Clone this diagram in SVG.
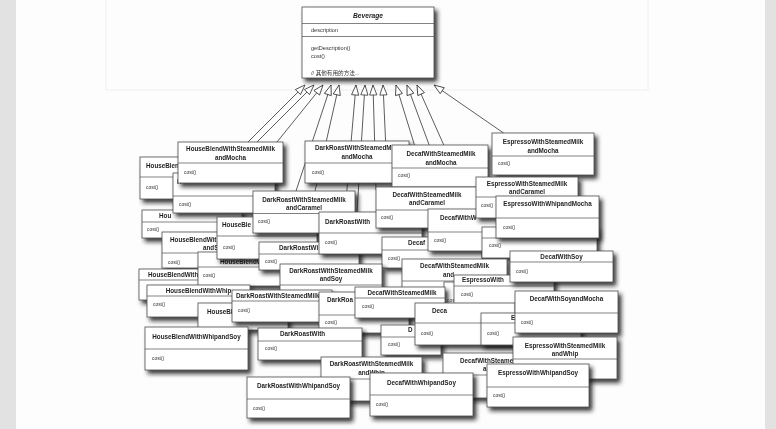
<svg xmlns="http://www.w3.org/2000/svg" width="776" height="429" viewBox="0 0 776 429">
<style>
.b{fill:#fff;stroke:#4d4d4d;stroke-width:0.8;filter:url(#sh)}
.d{stroke:#4d4d4d;stroke-width:0.7;fill:none}
.t{font-family:"Liberation Sans",Arial,sans-serif;font-weight:bold;font-size:6.3px;fill:#1e1e1e}
.m{text-anchor:middle}
.c{font-family:"Liberation Sans",Arial,sans-serif;font-size:4.9px;fill:#333}
.c2{font-family:"Liberation Sans","Noto Sans CJK SC",Arial,sans-serif;font-size:5.6px;fill:#333}
</style>
<defs>
<filter id="sh" x="-20%" y="-30%" width="150%" height="180%"><feDropShadow dx="3" dy="3.5" stdDeviation="2.2" flood-color="#141414" flood-opacity="0.85"/></filter>
<marker id="tri" viewBox="-11 -5 12 10" refX="0" refY="0" markerWidth="12" markerHeight="10" markerUnits="userSpaceOnUse" orient="auto"><path d="M0 0L-10 -3.6L-10 3.6Z" fill="#fff" stroke="#333" stroke-width="0.8"/></marker>
</defs>
<g style="opacity:0.995">
<rect x="0" y="0" width="776" height="429" fill="#e2e2e2"/>
<rect x="16" y="0" width="749" height="429" fill="#fdfdfd"/>
<rect x="106" y="-2" width="542" height="92" fill="none" stroke="#eeeeee"/>

<g id="beverage"><rect class="b" x="302" y="7" width="132" height="71"/><path class="d" d="M302 23.5h132M302 36.5h132"/><text class="t m" x="368" y="17.5" style="font-style:italic;font-size:6.7px">Beverage</text><text class="c2" x="311" y="32">description</text><text class="c2" x="311" y="50">getDescription()</text><text class="c2" x="311" y="58">cost()</text><text class="c2" x="311" y="74.5">// 其他有用的方法...</text></g>

<g id="connectors" stroke="#333" stroke-width="0.8" fill="none">
<line x1="248" y1="142" x2="305" y2="85" marker-end="url(#tri)"/>
<line x1="257" y1="142" x2="314" y2="85" marker-end="url(#tri)"/>
<line x1="277" y1="142" x2="323" y2="85" marker-end="url(#tri)"/>
<line x1="296" y1="191" x2="331" y2="85" marker-end="url(#tri)"/>
<line x1="315" y1="191" x2="339" y2="85" marker-end="url(#tri)"/>
<line x1="345" y1="212" x2="356" y2="85" marker-end="url(#tri)"/>
<line x1="357" y1="212" x2="365" y2="85" marker-end="url(#tri)"/>
<line x1="376" y1="190" x2="373" y2="85" marker-end="url(#tri)"/>
<line x1="386" y1="150" x2="383" y2="85" marker-end="url(#tri)"/>
<line x1="416" y1="150" x2="396" y2="85" marker-end="url(#tri)"/>
<line x1="431" y1="150" x2="407" y2="85" marker-end="url(#tri)"/>
<line x1="446" y1="150" x2="417" y2="85" marker-end="url(#tri)"/>
<line x1="505" y1="134" x2="434" y2="85" marker-end="url(#tri)"/>
</g>

<g id="a1"><rect class="b" x="140" y="157" width="100" height="42"/><path class="d" d="M140 177h100"/><text class="t" x="146" y="168">HouseBlen</text><text class="c" x="146" y="189">cost()</text></g>
<g id="a3"><rect class="b" x="142" y="210" width="100" height="28"/><path class="d" d="M142 222h100"/><text class="t" x="159" y="218">Hou</text><text class="c" x="147" y="231">cost()</text></g>
<g id="a2"><rect class="b" x="173" y="173" width="102" height="40"/><path class="d" d="M173 196h102"/><text class="t" x="177" y="184">H</text><text class="c" x="179" y="206">cost()</text></g>
<g id="b1"><rect class="b" x="178" y="142" width="105" height="41"/><path class="d" d="M178 163h105"/><text class="t m" x="230.5" y="151">HouseBlendWithSteamedMilk</text><text class="t m" x="230.5" y="159.5">andMocha</text><text class="c" x="184" y="174">cost()</text></g>
<g id="b2"><rect class="b" x="305" y="141" width="104" height="42"/><path class="d" d="M305 163h104"/><text class="t" x="315" y="150">DarkRoastWithSteamedM</text><text class="t m" x="357" y="158.5">andMocha</text><text class="c" x="312" y="174">cost()</text></g>
<g id="b3"><rect class="b" x="392" y="145" width="96" height="42"/><path class="d" d="M392 168h96"/><text class="t m" x="441" y="156">DecafWithSteamedMilk</text><text class="t m" x="441" y="164.5">andMocha</text><text class="c" x="398" y="177">cost()</text></g>
<g id="b4"><rect class="b" x="492" y="133" width="102" height="42"/><path class="d" d="M492 156h102"/><text class="t m" x="543" y="144">EspressoWithSteamedMilk</text><text class="t m" x="543" y="152.5">andMocha</text><text class="c" x="498" y="165">cost()</text></g>
<g id="a4"><rect class="b" x="162" y="232" width="100" height="36"/><path class="d" d="M162 253h100"/><text class="t" x="170" y="242">HouseBlendWit</text><text class="t" x="203" y="250">andS</text><text class="c" x="168" y="264">cost()</text></g>
<g id="a9"><rect class="b" x="139" y="269" width="80" height="31"/><path class="d" d="M139 280h80"/><text class="t" x="148" y="276.5">HouseBlendWith</text></g>
<g id="a8"><rect class="b" x="198" y="252" width="100" height="34"/><path class="d" d="M198 267h100"/><text class="t" x="220" y="264">HouseBlendWi</text><text class="c" x="203" y="277">cost()</text></g>
<g id="a7"><rect class="b" x="217" y="217" width="100" height="42"/><path class="d" d="M217 236h100"/><text class="t" x="222" y="227">HouseBle</text><text class="c" x="223" y="249">cost()</text></g>
<g id="d1"><rect class="b" x="259" y="242" width="100" height="28"/><path class="d" d="M259 254h100"/><text class="t" x="279" y="249.5">DarkRoastWi</text><text class="c" x="265" y="263">cost()</text></g>
<g id="b7"><rect class="b" x="253" y="191" width="102" height="42"/><path class="d" d="M253 213.5h102"/><text class="t m" x="304" y="201.5">DarkRoastWithSteamedMilk</text><text class="t m" x="304" y="210">andCaramel</text><text class="c" x="258" y="223">cost()</text></g>
<g id="b5"><rect class="b" x="319" y="212" width="103" height="42"/><path class="d" d="M319 233h103"/><text class="t" x="325" y="223.5">DarkRoastWith</text><text class="c" x="325" y="244">cost()</text></g>
<g id="b8"><rect class="b" x="376" y="187" width="102" height="41"/><path class="d" d="M376 210h102"/><text class="t m" x="427" y="196.5">DecafWithSteamedMilk</text><text class="t m" x="427" y="205">andCaramel</text><text class="c" x="381" y="219">cost()</text></g>
<g id="b13"><rect class="b" x="382" y="237" width="100" height="31"/><path class="d" d="M382 250h100"/><text class="t" x="408" y="245">Decaf</text><text class="c" x="388" y="260">cost()</text></g>
<g id="b6"><rect class="b" x="428" y="209" width="102" height="42"/><path class="d" d="M428 232h102"/><text class="t" x="440" y="219.5">DecafWithW</text><text class="c" x="434" y="242">cost()</text></g>
<g id="b9"><rect class="b" x="476" y="177" width="102" height="41"/><path class="d" d="M476 197h102"/><text class="t m" x="527" y="185.5">EspressoWithSteamedMilk</text><text class="t m" x="527" y="193.5">andCaramel</text><text class="c" x="481" y="207">cost()</text></g>
<g id="e1"><rect class="b" x="482" y="227" width="115" height="31"/><path class="d" d="M482 238h115"/><text class="c" x="489" y="247">cost()</text></g>
<g id="b10"><rect class="b" x="496" y="196" width="103" height="42"/><path class="d" d="M496 218h103"/><text class="t m" x="547.5" y="206">EspressoWithWhipandMocha</text><text class="c" x="503" y="229">cost()</text></g>
<g id="m11"><rect class="b" x="402" y="259" width="105" height="42"/><path class="d" d="M402 281h105"/><text class="t m" x="454.5" y="268">DecafWithSteamedMilk</text><text class="t" x="443" y="276.5">and</text></g>
<g id="m12"><rect class="b" x="444" y="282" width="60" height="31"/><text class="c" x="447" y="302">cost()</text></g>
<g id="m10"><rect class="b" x="454" y="275" width="100" height="30"/><path class="d" d="M454 286h100"/><text class="t" x="462" y="281.5">EspressoWith</text><text class="c" x="461" y="296">cost()</text></g>
<g id="m7"><rect class="b" x="510" y="251" width="103" height="31"/><path class="d" d="M510 262h103"/><text class="t m" x="561.5" y="258.5">DecafWithSoy</text><text class="c" x="516" y="273">cost()</text></g>
<g id="m1"><rect class="b" x="280" y="264" width="102" height="40"/><path class="d" d="M280 285h102"/><text class="t m" x="331" y="272.5">DarkRoastWithSteamedMilk</text><text class="t m" x="331" y="281">andSoy</text></g>
<g id="a10"><rect class="b" x="147" y="285" width="103" height="32"/><path class="d" d="M147 296h103"/><text class="t m" x="198.5" y="292.5">HouseBlendWithWhip</text><text class="c" x="153" y="306">cost()</text></g>
<g id="a11"><rect class="b" x="198" y="303" width="90" height="27"/><text class="t" x="207" y="313.5">HouseBl</text></g>
<g id="a12"><rect class="b" x="232" y="290" width="100" height="32"/><path class="d" d="M232 301h100"/><text class="t" x="236" y="297.5">DarkRoastWithSteamedMilk</text><text class="c" x="238" y="312">cost()</text></g>
<g id="m2"><rect class="b" x="319" y="292" width="90" height="41"/><path class="d" d="M319 315h90"/><text class="t" x="327" y="302">DarkRoa</text><text class="c" x="325" y="324">cost()</text></g>
<g id="m3"><rect class="b" x="355" y="287" width="90" height="31"/><path class="d" d="M355 298h90"/><text class="t m" x="402" y="294.5">DecafWithSteamedMilk</text><text class="c" x="362" y="308">cost()</text></g>
<g id="m13"><rect class="b" x="381" y="325" width="60" height="30"/><path class="d" d="M381 337h60"/><text class="t" x="408" y="332">D</text><text class="c" x="388" y="346">cost()</text></g>
<g id="m4"><rect class="b" x="415" y="303" width="100" height="42"/><path class="d" d="M415 323h100"/><text class="t" x="432" y="313">Deca</text><text class="c" x="421" y="335">cost()</text></g>
<g id="m5"><rect class="b" x="481" y="313" width="100" height="32"/><path class="d" d="M481 323h100"/><text class="t" x="511" y="320">E</text><text class="c" x="487" y="335">cost()</text></g>
<g id="m6"><rect class="b" x="515" y="291" width="103" height="42"/><path class="d" d="M515 313h103"/><text class="t m" x="566.5" y="301">DecafWithSoyandMocha</text><text class="c" x="521" y="324">cost()</text></g>
<g id="a13"><rect class="b" x="145" y="327" width="103" height="43"/><path class="d" d="M145 349h103"/><text class="t m" x="196.5" y="338.5">HouseBlendWithWhipandSoy</text><text class="c" x="152" y="360">cost()</text></g>
<g id="a14"><rect class="b" x="258" y="328" width="104" height="32"/><path class="d" d="M258 341h104"/><text class="t" x="280" y="335.5">DarkRoastWith</text><text class="c" x="265" y="350">cost()</text></g>
<g id="a16"><rect class="b" x="321" y="357" width="101" height="44"/><path class="d" d="M321 379h101"/><text class="t m" x="371.5" y="366">DarkRoastWithSteamedMilk</text><text class="t m" x="371.5" y="374.5">andWhip</text></g>
<g id="a15"><rect class="b" x="247" y="377" width="103" height="41"/><path class="d" d="M247 399h103"/><text class="t m" x="298.5" y="388">DarkRoastWithWhipandSoy</text><text class="c" x="253" y="410">cost()</text></g>
<g id="m14"><rect class="b" x="443" y="353" width="102" height="45"/><path class="d" d="M443 375h102"/><text class="t" x="460" y="362.5">DecafWithSteame</text><text class="t" x="483" y="370.5">a</text></g>
<g id="a17"><rect class="b" x="370" y="373" width="103" height="43"/><path class="d" d="M370 395h103"/><text class="t m" x="421.5" y="384.5">DecafWithWhipandSoy</text><text class="c" x="376" y="406">cost()</text></g>
<g id="m8"><rect class="b" x="513" y="337" width="104" height="42"/><path class="d" d="M513 359h104"/><text class="t m" x="565" y="347.5">EspressoWithSteamedMilk</text><text class="t m" x="565" y="355.5">andWhip</text></g>
<g id="m9"><rect class="b" x="487" y="364" width="102" height="43"/><path class="d" d="M487 387h102"/><text class="t m" x="538" y="375">EspressoWithWhipandSoy</text><text class="c" x="493" y="397">cost()</text></g>
</g>
</svg>
